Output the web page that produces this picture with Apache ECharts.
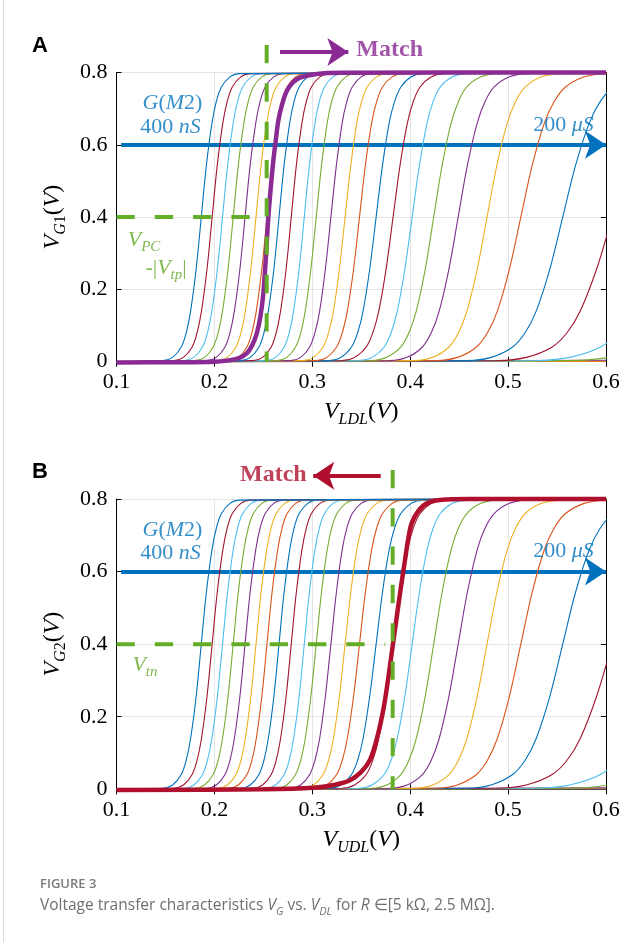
<!DOCTYPE html>
<html lang="en">
<head>
<meta charset="utf-8">
<title>Figure 3 - voltage transfer characteristics</title>
<script src="https://cdn.jsdelivr.net/npm/echarts@6/dist/echarts.min.js"></script>
<style>
    html, body { margin: 0; background: #fff; }
    #main { width: 641px; height: 942px; }
</style>
</head>
<body>
<div id="main"></div>
<script>
var levels = [0.003, 0.012, 0.04, 0.08, 0.14, 0.257, 0.4, 0.543, 0.66, 0.72, 0.76, 0.788, 0.797];
// V_DL position of each curve at those levels, leftmost curve (400 nS) first
var curveX = [
    [0.1475, 0.1573, 0.1660, 0.1712, 0.1757, 0.1814, 0.1866, 0.1918, 0.1975, 0.2020, 0.2072, 0.2159, 0.2257],
    [0.1586, 0.1684, 0.1771, 0.1823, 0.1868, 0.1925, 0.1977, 0.2029, 0.2086, 0.2131, 0.2183, 0.2270, 0.2368],
    [0.1692, 0.1790, 0.1877, 0.1929, 0.1974, 0.2031, 0.2083, 0.2135, 0.2192, 0.2237, 0.2289, 0.2376, 0.2474],
    [0.1801, 0.1899, 0.1986, 0.2038, 0.2083, 0.2140, 0.2192, 0.2244, 0.2301, 0.2346, 0.2398, 0.2485, 0.2583],
    [0.1922, 0.2020, 0.2107, 0.2159, 0.2204, 0.2261, 0.2313, 0.2365, 0.2422, 0.2467, 0.2519, 0.2606, 0.2704],
    [0.2034, 0.2132, 0.2219, 0.2271, 0.2316, 0.2373, 0.2425, 0.2477, 0.2534, 0.2579, 0.2631, 0.2718, 0.2816],
    [0.2146, 0.2244, 0.2331, 0.2383, 0.2428, 0.2485, 0.2537, 0.2589, 0.2646, 0.2691, 0.2743, 0.2830, 0.2928],
    [0.2269, 0.2367, 0.2454, 0.2506, 0.2551, 0.2608, 0.2660, 0.2712, 0.2769, 0.2814, 0.2866, 0.2953, 0.3051],
    [0.2394, 0.2492, 0.2579, 0.2631, 0.2676, 0.2733, 0.2785, 0.2837, 0.2894, 0.2939, 0.2991, 0.3078, 0.3176],
    [0.2527, 0.2625, 0.2712, 0.2764, 0.2809, 0.2866, 0.2918, 0.2970, 0.3027, 0.3072, 0.3124, 0.3211, 0.3309],
    [0.2638, 0.2739, 0.2828, 0.2882, 0.2928, 0.2986, 0.3040, 0.3094, 0.3152, 0.3198, 0.3252, 0.3341, 0.3442],
    [0.2777, 0.2881, 0.2972, 0.3027, 0.3075, 0.3134, 0.3190, 0.3246, 0.3305, 0.3353, 0.3408, 0.3499, 0.3603],
    [0.2905, 0.3013, 0.3109, 0.3166, 0.3216, 0.3277, 0.3335, 0.3393, 0.3454, 0.3504, 0.3561, 0.3657, 0.3765],
    [0.3036, 0.3148, 0.3247, 0.3306, 0.3358, 0.3422, 0.3482, 0.3542, 0.3606, 0.3658, 0.3717, 0.3816, 0.3928],
    [0.3172, 0.3293, 0.3399, 0.3463, 0.3519, 0.3587, 0.3652, 0.3717, 0.3785, 0.3841, 0.3905, 0.4011, 0.4132],
    [0.3300, 0.3432, 0.3549, 0.3618, 0.3679, 0.3754, 0.3825, 0.3896, 0.3971, 0.4032, 0.4101, 0.4218, 0.4350],
    [0.3473, 0.3610, 0.3732, 0.3805, 0.3868, 0.3946, 0.4020, 0.4094, 0.4172, 0.4235, 0.4308, 0.4430, 0.4567],
    [0.3598, 0.3759, 0.3902, 0.3987, 0.4062, 0.4154, 0.4240, 0.4326, 0.4418, 0.4493, 0.4578, 0.4721, 0.4882],
    [0.3792, 0.3967, 0.4122, 0.4215, 0.4296, 0.4396, 0.4490, 0.4584, 0.4684, 0.4765, 0.4858, 0.5013, 0.5188],
    [0.4043, 0.4229, 0.4394, 0.4493, 0.4579, 0.4685, 0.4785, 0.4885, 0.4991, 0.5077, 0.5176, 0.5341, 0.5527],
    [0.4265, 0.4482, 0.4674, 0.4789, 0.4890, 0.5014, 0.5130, 0.5246, 0.5370, 0.5471, 0.5586, 0.5778, 0.5995],
    [0.4581, 0.4826, 0.5043, 0.5174, 0.5287, 0.5427, 0.5558, 0.5689, 0.5829, 0.5942, 0.6073, 0.6290, 0.6535],
    [0.4891, 0.5185, 0.5446, 0.5602, 0.5737, 0.5905, 0.6063, 0.6221, 0.6389, 0.6524, 0.6680, 0.6941, 0.7235],
    [0.5278, 0.5628, 0.5938, 0.6124, 0.6285, 0.6485, 0.6673, 0.6861, 0.7061, 0.7222, 0.7408, 0.7718, 0.8068],
    [0.5606, 0.6026, 0.6398, 0.6621, 0.6815, 0.7055, 0.7280, 0.7505, 0.7745, 0.7939, 0.8162, 0.8534, 0.8954]
];
// the last curves (highest R) barely leave 0: value reached at V_DL = 0.6
var flatEnd = [0.004, 0.002, 0.001, 0.0005];
var colors = ['#0072BD', '#A2142F', '#4DBEEE', '#77AC30', '#7E2F8E', '#EDB120', '#D95319'];

// highlighted "Match" curves
var matchAx = [0.1, 0.16, 0.20, 0.2126, 0.225, 0.2330, 0.2385, 0.2432, 0.2470, 0.2500, 0.2526, 0.2551,
    0.2577, 0.2602, 0.2628, 0.2653, 0.2695, 0.2739, 0.2800, 0.2874, 0.3045, 0.33, 0.6];
var matchAy = [-0.002, -0.0015, 0.0, 0.003, 0.010, 0.023, 0.045, 0.078, 0.125, 0.189, 0.29, 0.4,
    0.485, 0.556, 0.615, 0.667, 0.715, 0.749, 0.772, 0.786, 0.796, 0.799, 0.8];
var matchBx = [0.1, 0.25, 0.3010, 0.322, 0.3385, 0.350, 0.3589, 0.366, 0.3725, 0.377, 0.3811,
    0.3855, 0.3896, 0.3947, 0.398, 0.4015, 0.408, 0.4169, 0.4304, 0.46, 0.6];
var matchBy = [-0.002, 0.0, 0.004, 0.012, 0.025, 0.048, 0.081, 0.14, 0.2185, 0.295, 0.375,
    0.46, 0.54, 0.632, 0.69, 0.733, 0.766, 0.788, 0.797, 0.8, 0.8];

// threshold markers
var vtpA = 0.2534;   // V_PC - |V_tp|
var vtnB = 0.3821;   // V_tn

var serif = '"Liberation Serif", "DejaVu Serif", serif';

function rich(size, color) {
    var sub = Math.round(size * 0.68);
    return {
        i: { fontFamily: serif, fontStyle: 'italic', fontSize: size, color: color, lineHeight: size + 8 },
        r: { fontFamily: serif, fontSize: size, color: color, lineHeight: size + 8 },
        s: { fontFamily: serif, fontStyle: 'italic', fontSize: sub, color: color, verticalAlign: 'bottom', lineHeight: sub + 2 },
        sr: { fontFamily: serif, fontSize: sub, color: color, verticalAlign: 'bottom', lineHeight: sub + 2 },
        b: { fontFamily: serif, fontWeight: 'bold', fontSize: size, color: color }
    };
}

function thin(xi, yi, data, color) {
    return {
        type: 'line', xAxisIndex: xi, yAxisIndex: yi, data: data,
        smooth: 0.35, symbol: 'none', silent: true,
        lineStyle: { width: 1.1, color: color }
    };
}

function family(xi, yi) {
    var out = [];
    for (var k = flatEnd.length - 1; k >= 0; k--) {
        out.push(thin(xi, yi, [[0.1, 0], [0.6, flatEnd[k]]], colors[(curveX.length + k) % 7]));
    }
    for (var i = curveX.length - 1; i >= 0; i--) {
        var xs = curveX[i];
        var d = [[0.1, 0]];
        xs.forEach(function (x, j) { d.push([x, levels[j]]); });
        d.push([Math.max(0.6, xs[xs.length - 1] + 0.02), 0.8]);
        out.push(thin(xi, yi, d, colors[i % 7]));
    }
    return out;
}

function zip(xs, ys) {
    return xs.map(function (x, j) { return [x, ys[j]]; });
}

function thick(xi, yi, data, color) {
    return {
        type: 'line', xAxisIndex: xi, yAxisIndex: yi, data: data, clip: false,
        smooth: 0.35, symbol: 'none', silent: true, z: 4,
        lineStyle: { width: 4.5, color: color }
    };
}

function dashed(xi, yi, data) {
    return {
        type: 'line', xAxisIndex: xi, yAxisIndex: yi, data: data, clip: false,
        symbol: 'none', silent: true, z: 5,
        lineStyle: { width: 4, color: '#64AD26', type: [18.3, 20] }
    };
}

function arrow(xi, yi, from, to, color) {
    return {
        type: 'lines', coordinateSystem: 'cartesian2d', xAxisIndex: xi, yAxisIndex: yi,
        clip: false, silent: true, z: 3,
        symbol: ['none', 'arrow'], symbolSize: [15, 21],
        lineStyle: { width: 4, color: color, opacity: 1, curveness: 0 },
        data: [{ coords: [from, to] }]
    };
}

function texts(xi, yi, items) {
    return {
        type: 'scatter', xAxisIndex: xi, yAxisIndex: yi, symbolSize: 0, clip: false, silent: true, z: 6,
        data: items.map(function (t) {
            return {
                value: t.at,
                label: { show: true, position: t.pos || 'inside', distance: 0, formatter: t.text, rich: rich(t.size || 22, t.color) }
            };
        })
    };
}

function xAxes(grid, name) {
    return [{
        type: 'value', gridIndex: grid, min: 0.1, max: 0.6, interval: 0.1, position: 'bottom',
        name: name, nameLocation: 'middle', nameGap: 34,
        nameTextStyle: { rich: rich(24, '#000') },
        axisLine: { lineStyle: { color: '#000', width: 1 } },
        axisTick: { inside: true, length: 5, lineStyle: { color: '#000' } },
        axisLabel: { margin: 10, fontFamily: serif, fontSize: 22, color: '#000',
            formatter: function (v) { return v.toFixed(1); } },
        splitLine: { show: true, lineStyle: { color: '#E4E4E4', width: 1 } }
    }, {
        type: 'value', gridIndex: grid, min: 0.1, max: 0.6, interval: 0.1, position: 'top',
        axisLine: { lineStyle: { color: '#000', width: 1 } },
        axisTick: { inside: true, length: 5, lineStyle: { color: '#000' } },
        axisLabel: { show: false }, splitLine: { show: false }
    }];
}

function yAxes(grid, name) {
    return [{
        type: 'value', gridIndex: grid, min: 0, max: 0.8, interval: 0.2, position: 'left',
        name: name, nameLocation: 'middle', nameGap: 48, nameRotate: 90,
        nameTextStyle: { rich: rich(24, '#000') },
        axisLine: { show: true, lineStyle: { color: '#000', width: 1 } },
        axisTick: { show: true, inside: true, length: 5, lineStyle: { color: '#000' } },
        axisLabel: { margin: 9, fontFamily: serif, fontSize: 22, color: '#000',
            formatter: function (v) { return v === 0 ? '0' : v.toFixed(1); } },
        splitLine: { show: true, lineStyle: { color: '#E4E4E4', width: 1 } }
    }, {
        type: 'value', gridIndex: grid, min: 0, max: 0.8, interval: 0.2, position: 'right',
        axisLine: { show: true, lineStyle: { color: '#000', width: 1 } },
        axisTick: { show: true, inside: true, length: 5, lineStyle: { color: '#000' } },
        axisLabel: { show: false }, splitLine: { show: false }
    }];
}

var blue = '#0072BD', purple = '#8A2B93', red = '#B0102E', green = '#5FA821';

var series = [].concat(
    family(0, 0),
    family(2, 2),
    [
        arrow(0, 0, [0.1047, 0.6], [0.6, 0.6], blue),
        arrow(2, 2, [0.1047, 0.6], [0.6, 0.6], blue),
        thick(0, 0, zip(matchAx, matchAy), purple),
        thick(2, 2, zip(matchBx, matchBy), red),
        dashed(0, 0, [[vtpA, 0.876], [vtpA, 0]]),
        dashed(0, 0, [[0.1, 0.4], [0.25, 0.4]]),
        dashed(2, 2, [[vtnB, 0.88], [vtnB, 0]]),
        dashed(2, 2, [[0.1, 0.4], [0.3745, 0.4]]),
        arrow(0, 0, [0.2670, 0.857], [0.3368, 0.857], purple),
        arrow(2, 2, [0.3699, 0.864], [0.3010, 0.864], red),
        texts(0, 0, [
            { at: [0.1572, 0.7156], text: '{i|G}{r|(}{i|M}{r|2)}', color: blue },
            { at: [0.1552, 0.6493], text: '{r|400 }{i|nS}', color: blue },
            { at: [0.5566, 0.6548], text: '{r|200 }{i|μS}', color: blue },
            { at: [0.1281, 0.3367], text: '{i|V}{s|PC}', color: green },
            { at: [0.1506, 0.2592], text: '{r|-|}{i|V}{s|tp}{r||}', color: green },
            { at: [0.3450, 0.8622], text: '{b|Match}', color: purple, pos: 'right', size: 24 }
        ]),
        texts(2, 2, [
            { at: [0.1572, 0.7146], text: '{i|G}{r|(}{i|M}{r|2)}', color: blue },
            { at: [0.1552, 0.6512], text: '{r|400 }{i|nS}', color: blue },
            { at: [0.5566, 0.6567], text: '{r|200 }{i|μS}', color: blue },
            { at: [0.1291, 0.3425], text: '{i|V}{s|tn}', color: green },
            { at: [0.2943, 0.8661], text: '{b|Match}', color: red, pos: 'left', size: 24 }
        ])
    ]
);

var chart = echarts.init(document.getElementById('main'), null, { renderer: 'canvas' });
chart.setOption({
    animation: false,
    backgroundColor: '#fff',
    grid: [
        { left: 116.5, right: 35, top: 72.5, height: 289.2 },
        { left: 116.5, right: 35, top: 499, height: 290.3 }
    ],
    xAxis: [].concat(xAxes(0, '{i|V}{s|LDL}{r|(}{i|V}{r|)}'), xAxes(1, '{i|V}{s|UDL}{r|(}{i|V}{r|)}')),
    yAxis: [].concat(yAxes(0, '{i|V}{s|G}{sr|1}{r|(}{i|V}{r|)}'), yAxes(1, '{i|V}{s|G}{sr|2}{r|(}{i|V}{r|)}')),
    series: series,
    graphic: [
        { type: 'line', shape: { x1: 3.5, y1: 0, x2: 3.5, y2: 942 }, style: { stroke: '#D9D9D9', lineWidth: 1 } },
        { type: 'text', left: 32, top: 35, style: { text: 'A', fontFamily: '"Liberation Sans", Arial, sans-serif', fontWeight: 'bold', fontSize: 22, fill: '#000' } },
        { type: 'text', left: 32, top: 461, style: { text: 'B', fontFamily: '"Liberation Sans", Arial, sans-serif', fontWeight: 'bold', fontSize: 22, fill: '#000' } },
        { type: 'text', left: 40, top: 878, style: { text: 'FIGURE 3', fontFamily: '"Open Sans", sans-serif', fontWeight: 600, fontSize: 13, fill: '#7a7a7a' } },
        { type: 'text', left: 40, top: 898, style: {
            text: '{n|Voltage transfer characteristics }{it|V}{sb|G}{n| vs. }{it|V}{sb|DL}{n| for }{it|R}{n| ∈[5 kΩ, 2.5 MΩ].}',
            rich: {
                n: { fontFamily: '"Open Sans", sans-serif', fontSize: 15.5, fill: '#6f6f6f', lineHeight: 22 },
                it: { fontFamily: '"Open Sans", sans-serif', fontStyle: 'italic', fontSize: 15.5, fill: '#6f6f6f', lineHeight: 22 },
                sb: { fontFamily: '"Open Sans", sans-serif', fontStyle: 'italic', fontSize: 11, fill: '#6f6f6f', verticalAlign: 'bottom', lineHeight: 13 }
            }
        } }
    ]
});
</script>
</body>
</html>
